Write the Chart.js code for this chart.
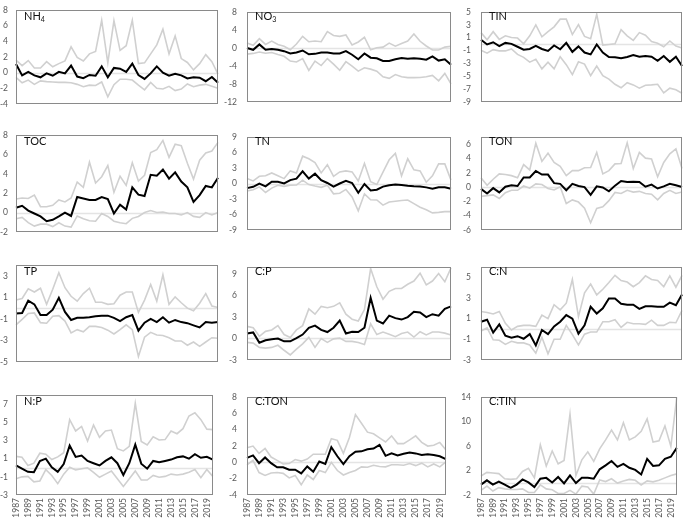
<!DOCTYPE html>
<html><head><meta charset="utf-8">
<script src="https://cdn.jsdelivr.net/npm/chart.js@4.4.1/dist/chart.umd.min.js"></script>
<style>
body{margin:0;width:685px;height:519px;background:#fff;position:relative;overflow:hidden;font-family:Lato,"Liberation Sans",sans-serif}
.p{position:absolute}
.t{position:absolute;font-size:11px;color:#111;font-family:Lato,"Liberation Sans",sans-serif;line-height:12px}
.t sub{font-size:7px;vertical-align:-2px}
</style></head><body>
<script>
const years = ["1987","1988","1989","1990","1991","1992","1993","1994","1995","1996","1997","1998","1999","2000","2001","2002","2003","2004","2005","2006","2007","2008","2009","2010","2011","2012","2013","2014","2015","2016","2017","2018","2019","2020"];

const nh4Mid = [1.1,-0.35,0.1,-0.35,-0.6,-0.1,-0.4,0.1,-0.1,0.9,-0.5,-0.7,-0.3,-0.4,0.8,-0.6,0.6,0.5,0.1,1.15,-0.3,-0.8,-0.1,0.8,0.0,-0.4,-0.15,-0.35,-0.75,-0.6,-0.65,-1.1,-0.55,-1.3];
const nh4Hi = [1.6,0.9,1.55,0.6,0.6,1.4,0.75,1.15,1.5,3.3,1.95,1.5,2.4,2.7,6.7,1.25,6.65,2.85,3.45,6.7,1.15,1.25,2.4,3.55,5.55,2.4,4.7,1.8,1.3,0.35,1.15,2.3,1.4,-0.2];
const nh4Lo = [-0.6,-1.3,-0.95,-1.5,-1.05,-1.15,-1.2,-1.25,-1.25,-1.3,-1.5,-1.8,-1.6,-1.65,-1.2,-3.1,-1.55,-0.85,-0.85,-0.95,-1.6,-2.2,-1.25,-2.0,-2.1,-1.75,-2.3,-2.1,-1.45,-1.8,-1.6,-1.5,-1.75,-2.0];
const nh4Ticks = [-4,-2,0,2,4,6,8];

const no3Mid = [0,-0.4,0.8,-0.4,-0.2,-0.4,-0.7,-1.2,-1.0,-0.55,-1.4,-1.3,-1.0,-1.0,-1.2,-1.2,-0.7,-1.5,-2.5,-1.2,-2.15,-2.3,-2.9,-2.9,-2.5,-2.2,-2.4,-2.3,-2.4,-2.6,-1.85,-2.8,-2.5,-3.75];
const no3Hi = [1.1,0.6,2.1,0.8,1.55,0.8,0.4,-0.4,0.9,2.6,1.4,1.55,1.4,3.65,2.8,2.6,2.9,0.7,1.35,2.4,-0.4,0.05,0.2,1.1,0.4,1.0,1.55,3.15,1.5,0.45,-0.45,-0.45,0.2,0.4];
const no3Lo = [-1.35,-1.2,-0.9,-1.15,-1.0,-1.45,-1.85,-2.9,-3.1,-2.35,-5.0,-2.9,-3.9,-2.35,-3.6,-4.95,-3.05,-4.05,-5.15,-4.4,-4.7,-5.15,-6.4,-6.75,-5.9,-6.4,-6.6,-6.6,-6.55,-6.4,-6.1,-7.3,-5.65,-8.0];
const no3Ticks = [-12,-8,-4,0,4,8];

const tinMid = [0.7,-0.05,0.3,-0.3,0.2,0.05,-0.4,-0.85,-0.75,-0.25,-0.75,-1.05,-0.2,-0.8,0.2,-1.2,-0.35,-1.3,-1.6,-0.05,-1.3,-2.0,-2.05,-2.2,-2.0,-1.7,-1.95,-1.85,-1.95,-2.6,-1.85,-2.75,-1.95,-3.4];
const tinHi = [1.8,0.7,1.95,0.75,1.3,1.05,0.95,0.05,1.3,3.0,1.15,1.95,2.7,3.9,3.9,1.5,3.05,1.2,0.85,4.65,-0.15,-0.05,0.05,2.25,1.3,0.6,1.8,1.4,0.4,0.15,-0.4,0.5,-0.3,-0.6];
const tinLo = [-0.95,-1.4,-0.85,-1.05,-1.05,-0.75,-1.6,-2.05,-2.8,-2.35,-3.85,-2.8,-3.85,-1.95,-3.2,-4.75,-2.75,-3.1,-4.9,-3.4,-4.9,-5.45,-6.25,-6.8,-6.0,-6.35,-6.85,-6.4,-6.35,-6.25,-7.6,-6.85,-7.1,-7.65];
const tinTicks = [-9,-7,-5,-3,-1,1,3,5];

const tocMid = [0.5,0.7,0.2,-0.1,-0.4,-0.9,-0.75,-0.4,0.0,-0.35,1.6,1.45,1.3,1.3,1.6,1.4,-0.1,0.8,0.3,2.6,1.85,1.7,3.9,3.8,4.45,3.5,4.15,3.2,2.6,1.1,1.8,2.75,2.6,3.6];
const tocHi = [1.4,1.5,1.45,1.8,0.6,0.6,0.75,1.3,1.1,1.5,3.15,2.6,5.2,3.05,3.7,4.85,2.1,3.75,2.8,5.15,3.25,3.85,6.2,6.5,7.45,5.7,7.05,6.9,5.1,3.45,5.4,6.15,6.35,7.25];
const tocLo = [-0.65,-0.5,-1.05,-1.4,-1.2,-1.2,-1.45,-1.05,-1.4,-1.5,-0.35,-0.65,-0.85,-0.9,-0.1,-0.4,-0.9,-1.05,-1.15,-0.6,-0.4,0.0,0.2,0.0,0.05,-0.1,-0.1,-0.25,0.0,-0.4,-0.5,0.0,-0.25,0.0];
const tocTicks = [-2,0,2,4,6,8];

const tnMid = [-0.9,-0.65,0.0,-0.55,0.35,0.35,0.0,0.65,0.95,2.35,0.95,1.9,0.65,0.1,-0.6,0.0,0.5,0.1,-1.8,-0.1,-1.35,-1.2,-0.6,-0.35,-0.2,-0.3,-0.45,-0.55,-0.6,-0.75,-1.0,-0.75,-0.75,-1.0];
const tnHi = [0.95,0.5,1.4,1.5,2.05,1.5,0.95,2.45,2.05,5.3,4.8,4.05,2.05,3.65,1.4,2.25,2.45,2.25,0.5,3.9,0.35,-0.2,2.2,4.6,5.85,1.5,4.8,2.65,2.45,0.25,1.5,3.8,3.8,0.65];
const tnLo = [-1.45,-1.2,-0.65,-1.75,-0.9,-0.35,-0.55,-0.35,-0.3,0.65,-0.2,-0.5,-0.75,-0.35,-2.0,-1.9,-1.15,-2.6,-5.3,-2.0,-3.15,-3.2,-4.2,-3.6,-3.45,-3.3,-3.2,-3.9,-4.6,-5.1,-5.7,-5.6,-5.45,-5.45];
const tnTicks = [-9,-6,-3,0,3,6,9];

const tonMid = [-0.25,-0.9,-0.15,-0.75,0.05,0.25,0.15,1.35,1.35,2.25,1.75,1.75,0.55,0.45,-0.45,0.45,0.15,0.0,-1.1,0.1,-0.05,-0.6,0.2,0.85,0.7,0.75,0.7,0.05,0.35,-0.2,0.1,0.45,0.25,0.0];
const tonHi = [1.3,0.25,1.1,1.85,1.75,1.6,1.3,3.15,2.4,6.15,3.6,4.75,3.45,2.9,1.6,2.3,2.3,2.7,2.75,4.85,1.85,2.3,3.25,3.3,6.2,2.6,4.85,4.05,3.95,1.45,3.45,4.65,5.35,2.6];
const tonLo = [-1.3,-1.2,-1.1,-1.6,-0.8,-0.45,-0.45,0.15,-0.15,0.45,0.35,-0.2,-0.4,0.05,-2.3,-1.8,-2.1,-2.95,-5.0,-3.0,-2.75,-1.9,-0.75,-0.9,-0.45,-0.7,-0.6,-0.9,-1.0,-1.8,-0.9,-0.45,-0.9,-0.7];
const tonTicks = [-6,-4,-2,0,2,4,6];

const tpMid = [-0.5,-0.45,0.7,0.35,-0.65,-0.65,-0.15,0.95,-0.35,-1.1,-0.9,-0.9,-0.85,-0.75,-0.7,-0.7,-0.9,-1.2,-0.85,-0.65,-2.1,-1.35,-1.0,-1.3,-0.85,-1.35,-1.1,-1.3,-1.4,-1.6,-1.8,-1.3,-1.35,-1.3];
const tpHi = [0.75,0.9,1.8,1.5,1.85,0.35,1.75,3.3,1.9,1.1,0.65,1.35,1.85,0.55,0.55,0.35,0.4,1.2,1.5,1.5,-0.4,0.75,2.2,0.65,3.1,0.35,1.05,0.5,0.0,-0.25,0.45,1.35,0.2,0.05];
const tpLo = [-1.55,-1.05,-0.5,-0.45,-1.35,-1.4,-0.75,-0.7,-1.2,-2.3,-2.0,-2.2,-1.7,-1.7,-1.8,-2.05,-2.4,-2.0,-1.55,-2.0,-4.5,-2.7,-2.25,-2.5,-2.55,-2.75,-3.05,-3.05,-3.45,-3.15,-3.55,-3.15,-2.75,-2.8];
const tpTicks = [-5,-3,-1,1,3];

const cpMid = [0.7,0.85,-0.6,-0.25,-0.1,0.0,-0.4,-0.4,0.05,0.55,1.5,1.8,1.2,0.9,1.5,2.5,0.7,0.95,0.9,1.5,5.7,2.5,2.1,3.2,2.85,2.65,3.0,3.75,3.65,3.0,3.4,3.2,4.15,4.5];
const cpHi = [1.7,1.5,0.3,1.0,1.2,1.8,0.55,0.15,1.2,1.8,4.15,3.4,4.5,4.3,4.5,5.0,3.4,2.7,2.45,4.05,9.8,7.25,5.5,6.6,7.0,7.0,7.6,8.05,9.15,7.5,8.05,9.1,7.95,9.9];
const cpLo = [-0.55,-0.65,-1.25,-1.35,-1.25,-0.95,-1.65,-2.3,-1.5,-0.75,0.15,-1.25,0.0,-0.55,-0.05,0.05,-0.4,-0.4,-0.55,-0.85,2.05,0.55,0.9,0.6,0.25,0.7,0.9,0.2,0.95,0.5,0.9,0.9,0.75,0.5];
const cpTicks = [-3,0,3,6,9];

const cnMid = [0.7,0.9,-0.35,0.45,-0.65,-0.85,-0.7,-0.95,-0.5,-1.6,-0.1,-0.5,0.25,0.7,1.35,1.0,-0.45,0.35,2.15,1.5,2.0,2.95,2.95,2.45,2.35,2.35,1.95,2.2,2.2,2.15,2.15,2.55,2.3,3.35];
const cnHi = [1.7,1.6,1.45,1.7,0.55,-0.1,0.25,0.35,0.35,0.25,1.35,1.0,2.35,1.85,2.5,4.8,1.2,3.5,4.35,3.3,3.85,4.5,5.2,4.7,4.55,4.1,4.5,5.15,4.8,4.7,4.1,5.15,4.05,5.2];
const cnLo = [-0.2,0.1,-1.05,-1.1,-1.5,-1.2,-1.35,-1.35,-1.55,-2.35,-0.8,-2.4,-1.0,-1.0,0.35,-0.55,-1.55,-0.5,-0.3,-0.3,0.7,0.7,0.9,0.15,0.65,0.5,0.5,0.45,0.85,0.35,0.35,0.65,0.6,1.8];
const cnTicks = [-3,-1,1,3,5];

const npMid = [0.25,-0.1,-0.45,-0.5,0.75,1.0,0.05,-0.45,0.4,2.45,1.2,1.35,0.75,0.5,0.25,0.75,1.15,0.5,-0.8,0.5,2.55,0.45,-0.1,0.75,0.6,0.75,0.9,1.15,1.25,1.0,1.5,1.1,1.2,0.9];
const npHi = [1.25,1.15,0.25,0.5,1.6,1.5,0.9,1.2,1.65,5.3,4.05,4.55,2.95,4.7,3.35,4.05,4.15,2.1,1.85,2.35,7.1,2.9,2.5,3.4,3.05,3.1,4.05,3.75,4.3,5.7,6.05,5.3,4.25,4.2];
const npLo = [-1.2,-1.0,-0.95,-1.55,-1.45,-0.2,-0.85,-1.75,-0.7,0.05,-0.25,-0.1,0.0,-0.5,-1.05,-0.7,-0.35,-1.2,-2.05,-1.2,-0.35,-1.35,-1.35,-0.85,-1.05,-0.95,-0.7,-0.8,-0.7,-0.5,-0.2,-1.1,-0.2,-0.95];
const npTicks = [-3,-1,1,3,5,7];

const ctonMid = [0.55,0.85,-0.1,0.6,-0.1,-0.6,-0.6,-0.9,-0.9,-1.35,-0.5,-1.15,0.1,-0.2,1.85,0.75,-0.2,0.75,1.3,1.35,1.6,1.7,2.15,0.8,1.1,0.85,1.05,1.2,1.1,0.9,1.0,0.9,0.75,0.4];
const ctonHi = [1.8,2.0,1.1,1.7,0.65,0.25,-0.2,-0.15,0.35,0.15,0.4,1.0,1.0,1.0,2.9,2.7,1.1,3.05,5.85,4.8,3.7,3.5,3.0,2.5,3.25,2.3,2.3,2.75,3.25,2.45,2.0,2.1,2.45,1.55];
const ctonLo = [-0.3,0.25,-1.25,-1.6,-1.3,-1.25,-1.35,-1.9,-1.6,-2.75,-1.55,-2.1,-1.0,-1.25,0.0,-1.0,-1.55,-1.25,-1.0,-0.55,-0.6,-0.35,-0.5,-0.55,-0.3,-0.3,-0.35,-0.15,-0.4,-0.1,-0.55,-0.2,-0.55,0.05];
const ctonTicks = [-4,-2,0,2,4,6,8];

const ctinMid = [-0.3,0.4,-0.3,0.2,-0.3,-0.85,-0.3,0.55,0.05,-0.7,0.65,0.8,0.05,0.95,-0.1,1.2,-0.05,0.8,0.8,0.65,2.2,2.85,3.55,2.6,3.1,2.45,2.1,1.35,3.9,2.75,2.85,3.9,4.25,5.7];
const ctinHi = [1.1,1.7,1.6,1.5,0.65,0.55,0.65,1.85,2.35,0.8,6.2,2.75,5.2,3.1,3.65,11.2,1.2,3.75,5.05,3.5,5.55,7.0,8.6,7.0,9.8,7.0,7.5,8.4,10.45,6.65,6.85,9.3,5.95,14];
const ctinLo = [-1.25,-0.55,-1.35,-0.8,-1.0,-1.1,-1.1,-1.0,-1.6,-1.6,-0.35,-1.0,-1.15,-1.75,-1.75,-1.25,-1.85,-0.55,-0.7,-1.85,0.45,0.2,0.65,-0.05,0.3,0.55,0.4,-0.35,0.3,0.15,0.4,0.8,1.2,1.45];
const ctinTicks = [-2,2,6,10,14];

const panels = [
  {title:'NH<sub>4</sub>', mid:nh4Mid, hi:nh4Hi, lo:nh4Lo, ticks:nh4Ticks, min:-4, max:8},
  {title:'NO<sub>3</sub>', mid:no3Mid, hi:no3Hi, lo:no3Lo, ticks:no3Ticks, min:-12, max:8},
  {title:'TIN', mid:tinMid, hi:tinHi, lo:tinLo, ticks:tinTicks, min:-9, max:5},
  {title:'TOC', mid:tocMid, hi:tocHi, lo:tocLo, ticks:tocTicks, min:-2, max:8},
  {title:'TN', mid:tnMid, hi:tnHi, lo:tnLo, ticks:tnTicks, min:-9, max:9},
  {title:'TON', mid:tonMid, hi:tonHi, lo:tonLo, ticks:tonTicks, min:-6, max:7},
  {title:'TP', mid:tpMid, hi:tpHi, lo:tpLo, ticks:tpTicks, min:-5, max:4},
  {title:'C:P', mid:cpMid, hi:cpHi, lo:cpLo, ticks:cpTicks, min:-3, max:10},
  {title:'C:N', mid:cnMid, hi:cnHi, lo:cnLo, ticks:cnTicks, min:-3, max:6},
  {title:'N:P', mid:npMid, hi:npHi, lo:npLo, ticks:npTicks, min:-3, max:8},
  {title:'C:TON', mid:ctonMid, hi:ctonHi, lo:ctonLo, ticks:ctonTicks, min:-4, max:8},
  {title:'C:TIN', mid:ctinMid, hi:ctinHi, lo:ctinLo, ticks:ctinTicks, min:-2, max:14}
];

const cols = [{l:16,r:218,pad:8},{l:247,r:451,pad:10},{l:481,r:682,pad:10}];
const rows = [{t:5,b:109},{t:130,b:237},{t:260,b:367},{t:390,b:495}];

const framePlugin = {
  id:'frame',
  beforeDatasetsDraw(chart){
    const {ctx, chartArea:a, scales:{y}} = chart;
    const z = Math.round(y.getPixelForValue(0)) + 0.5;
    ctx.save();
    ctx.strokeStyle = '#e4e4e4'; ctx.lineWidth = 1.5;
    ctx.beginPath(); ctx.moveTo(a.left, z); ctx.lineTo(a.right, z); ctx.stroke();
    ctx.restore();
  },
  afterDraw(chart){
    const {ctx, chartArea:a} = chart;
    ctx.save();
    ctx.strokeStyle = '#8a8a8a'; ctx.lineWidth = 1;
    ctx.strokeRect(Math.round(a.left)+0.5, Math.round(a.top)+0.5, Math.round(a.right-a.left)-1, Math.round(a.bottom-a.top)-1);
    ctx.restore();
  }
};

const tickFont = {size:8.5, family:'Lato, "Liberation Sans", sans-serif'};

panels.forEach((p, k) => {
  const col = k % 3, row = Math.floor(k / 3);
  const c = cols[col], r = rows[row];
  const bottom = row === 3;
  const padT = 8, padR = 8, yW = 30, xH = bottom ? 24 : 0, padB = bottom ? 0 : 8;
  const div = document.createElement('div');
  div.className = 'p';
  div.style.left = (c.l - yW) + 'px';
  div.style.top = (r.t - padT) + 'px';
  div.style.width = (c.r - c.l + yW + padR) + 'px';
  div.style.height = (r.b - r.t + padT + padB + xH) + 'px';
  const cv = document.createElement('canvas');
  div.appendChild(cv);
  document.body.appendChild(div);

  const t = document.createElement('div');
  t.className = 't';
  t.innerHTML = p.title;
  t.style.left = (c.l + 8) + 'px';
  t.style.top = (r.t + 5) + 'px';
  document.body.appendChild(t);

  new Chart(cv, {
    type:'line',
    data:{labels:years, datasets:[
      {data:p.hi, borderColor:'#d0d0d0', borderWidth:1.6},
      {data:p.lo, borderColor:'#d0d0d0', borderWidth:1.6},
      {data:p.mid, borderColor:'#000000', borderWidth:2}
    ]},
    options:{
      responsive:true, maintainAspectRatio:false, animation:false, events:[],
      layout:{padding:{top:padT, right:padR, bottom:padB, left:0}},
      elements:{point:{radius:0}, line:{tension:0}},
      plugins:{legend:{display:false}, tooltip:{enabled:false}, title:{display:false}},
      scales:{
        x:{type:'category', offset:false, display:bottom,
           grid:{display:false, drawTicks:false}, border:{display:false},
           ticks:{autoSkip:false, maxRotation:90, minRotation:90, padding:3, font:tickFont, color:'#595959',
                  callback:(v, i) => (i % 2 === 0 ? years[i] : '')},
           afterFit(s){ s.height = xH; }},
        y:{min:p.min, max:p.max,
           grid:{display:false, drawTicks:false}, border:{display:false},
           ticks:{padding:c.pad, font:tickFont, color:'#595959', autoSkip:false},
           afterBuildTicks(s){ s.ticks = p.ticks.map(v => ({value:v})); },
           afterFit(s){ s.width = yW; }}
      }
    },
    plugins:[framePlugin]
  });
});
</script>
</body></html>
